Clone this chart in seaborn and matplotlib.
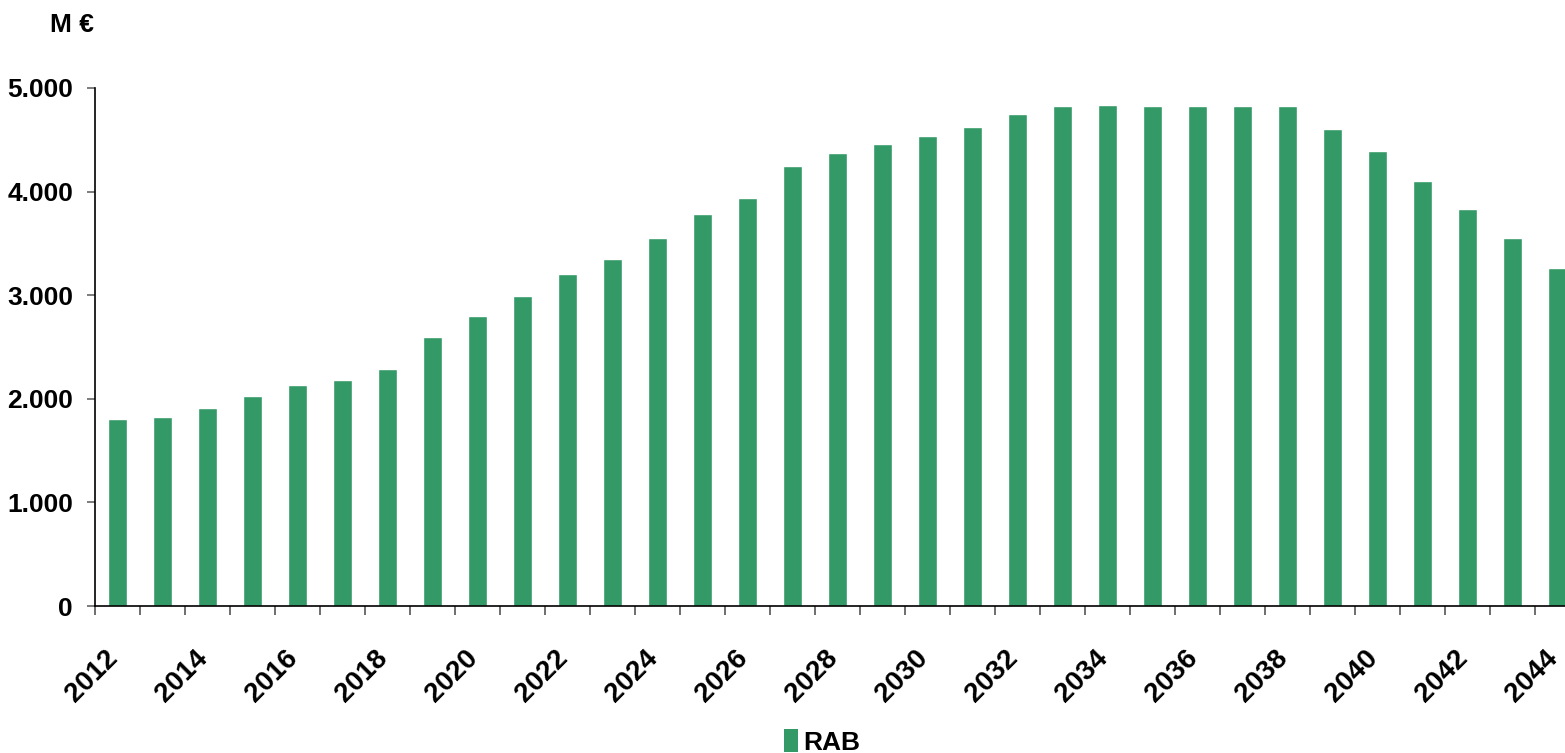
import matplotlib
matplotlib.use("Agg")
import matplotlib.pyplot as plt
import seaborn as sns
import pandas as pd
from matplotlib.ticker import FuncFormatter, FixedLocator
from matplotlib.patches import Patch
from matplotlib import font_manager
import matplotlib.transforms as mtransforms

years = list(range(2012, 2045))
rab = [1805, 1824, 1911, 2027, 2133, 2181, 2288, 2597, 2799, 2992, 3205, 3349,
       3552, 3784, 3938, 4247, 4373, 4459, 4537, 4624, 4749, 4826, 4836, 4826,
       4826, 4826, 4826, 4604, 4392, 4102, 3832, 3552, 3263]
series_name = "RAB"
unit_label = "M €"
color = "#339966"

sns.set_theme(style="white")
avail = {f.name for f in font_manager.fontManager.ttflist}
narrow = None
for cand in ["Liberation Sans Narrow", "Arial Narrow"]:
    if cand in avail:
        narrow = cand
        break
fam = narrow if narrow else "Liberation Sans"
fs = 20 if narrow else 19
plt.rcParams['font.family'] = [fam, 'DejaVu Sans']
plt.rcParams['font.weight'] = 'bold'
plt.rcParams['text.color'] = 'black'
plt.rcParams['xtick.color'] = 'black'
plt.rcParams['ytick.color'] = 'black'

df = pd.DataFrame({"year": [str(y) for y in years], "value": rab})

fig = plt.figure(figsize=(15.65, 7.53), dpi=100)
ax = fig.add_axes([95/1565, 1-606/753, 1-95/1565, (606-88)/753])
sns.barplot(data=df, x="year", y="value", color=color, width=0.44,
            saturation=1, ax=ax, zorder=2)

ax.set_xlim(-0.5, -0.5 + 1470/45)
ax.set_ylim(0, 5000)
ax.set_xlabel("")
ax.set_ylabel("")

for s in ["top", "right"]:
    ax.spines[s].set_visible(False)
for s in ["left", "bottom"]:
    ax.spines[s].set_color("black")
    ax.spines[s].set_linewidth(1.2)

ax.set_yticks([0, 1000, 2000, 3000, 4000, 5000])
ax.yaxis.set_major_formatter(FuncFormatter(lambda v, p: f"{int(v):,}".replace(",", ".")))
ax.tick_params(axis="y", which="major", left=True, length=5.8, width=1.2, color="#666666",
               labelsize=fs, labelcolor="black", pad=10)
for t in ax.get_yticklabels():
    t.set_fontweight("bold")

n = len(years)
ax.set_xticks(list(range(0, n, 2)))
ax.set_xticklabels([str(years[i]) for i in range(0, n, 2)], rotation=45,
                   ha="right", va="center", rotation_mode="anchor", fontsize=fs + 1,
                   fontweight="bold", color="black")
ax.tick_params(axis="x", which="major", bottom=True, length=0, pad=35)
offset = mtransforms.ScaledTranslation(-4/100, 0, fig.dpi_scale_trans)
for t in ax.get_xticklabels():
    t.set_transform(t.get_transform() + offset)
ax.xaxis.set_minor_locator(FixedLocator([i - 0.5 for i in range(n + 1)]))
ax.tick_params(axis="x", which="minor", bottom=True, length=6.5, width=1.2, color="#555555")

fig.text(50/1565, 1-25/753, unit_label, fontsize=fs, fontweight="bold", va="center",
         ha="left", color="black")

handles = [Patch(facecolor=color, edgecolor="none", label=series_name)]
leg = fig.legend(handles=handles, loc="lower center", bbox_to_anchor=(822/1565, -0.034),
                 frameon=False, handlelength=0.55, handleheight=0.95,
                 handletextpad=0.2, prop={"weight": "bold", "size": fs})
for t in leg.get_texts():
    t.set_color("black")

fig.savefig("out.png", dpi=100)
